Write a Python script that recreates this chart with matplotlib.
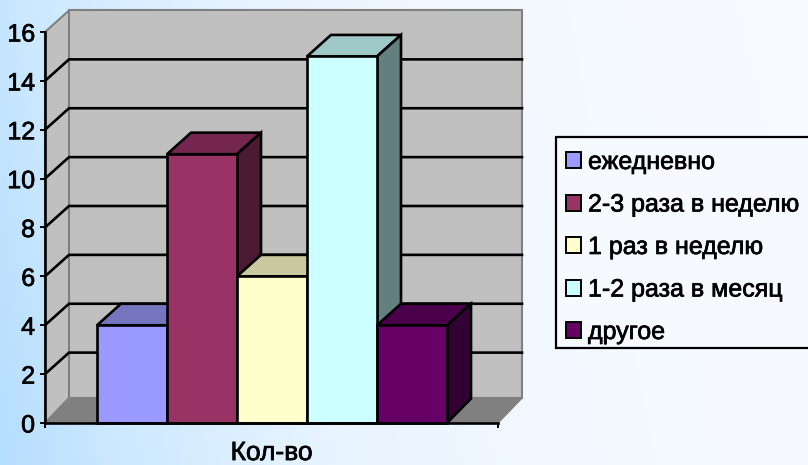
import matplotlib
matplotlib.use("Agg")
import matplotlib.pyplot as plt
import matplotlib.patheffects as pe
from matplotlib.colors import LinearSegmentedColormap
from matplotlib.patches import Patch, Polygon, Rectangle
import numpy as np

plt.rcParams["font.family"] = ["Liberation Sans", "DejaVu Sans"]

categories = ["ежедневно", "2-3 раза в неделю", "1 раз в неделю", "1-2 раза в месяц", "другое"]
values = [4, 11, 6, 15, 4]
front_colors = ["#9999ff", "#993366", "#ffffcc", "#ccffff", "#660066"]
top_colors = ["#7676bf", "#74264e", "#c9c9a0", "#9fc9c9", "#4b004b"]
side_colors = ["#4d4d80", "#4d1a33", "#80805f", "#647f7f", "#330033"]
y_ticks = [0, 2, 4, 6, 8, 10, 12, 14, 16]
x_label = "Кол-во"

W, H = 808, 465
fig = plt.figure(figsize=(W / 100, H / 100), dpi=100)

# background gradient
bg = fig.add_axes([0, 0, 1, 1], zorder=0)
bg.axis("off")
cmap = LinearSegmentedColormap.from_list(
    "bg", [(0, "#b6defe"), (0.12, "#cbe8ff"), (0.35, "#e6f3ff"), (0.6, "#f2f8ff"), (1, "#f8fbff")]
)
xx, yy = np.meshgrid(np.linspace(0, 1, 200), np.linspace(0, 1, 100))
bg.imshow(xx * 0.9 + (1 - yy) * 0.1, cmap=cmap, aspect="auto", vmin=0, vmax=1)

# front plane of the chart, 45..498 px wide and 32..423 px down
ax = fig.add_axes([45 / W, 1 - 423 / H, 453 / W, 391 / H], zorder=1)
ax.patch.set_alpha(0)
bar_w = 70.0
x0, x1 = -52 / bar_w, 401 / bar_w
ax.set_xlim(x0, x1)
ax.set_ylim(0, 16)

dx = 24 / bar_w
dy = 0.88
floor_dy = 1.02
heavy = [pe.withStroke(linewidth=0.5, foreground="black")]


def poly(pts, color, edge="black", lw=1.9, z=2):
    ax.add_patch(Polygon(pts, closed=True, facecolor=color, edgecolor=edge, linewidth=lw,
                         clip_on=False, zorder=z, joinstyle="miter"))


# walls and floor
poly([(x0 + dx, floor_dy), (x1 + dx, floor_dy), (x1 + dx, 16 + dy), (x0 + dx, 16 + dy)], "#c0c0c0", "#808080", 1.5, 1)
poly([(x0, 0), (x0 + dx, floor_dy), (x0 + dx, 16 + dy), (x0, 16)], "#c0c0c0", "#808080", 1.5, 1)
poly([(x0, 0), (x1, 0), (x1 + dx, floor_dy), (x0 + dx, floor_dy)], "#808080", "#808080", 1, 1)

# gridlines run along the side wall and then the back wall
for v in y_ticks[1:-1]:
    ax.plot([x0, x0 + dx, x1 + dx], [v, v + dy, v + dy], color="black", lw=1.9,
            clip_on=False, zorder=1.5, solid_joinstyle="miter")

for i, v in enumerate(values):
    poly([(i, v), (i + 1, v), (i + 1 + dx, v + dy), (i + dx, v + dy)], top_colors[i], z=2 + i)
    poly([(i + 1, 0), (i + 1 + dx, 1.0), (i + 1 + dx, v + dy), (i + 1, v)], side_colors[i], z=2 + i)
    poly([(i, 0), (i + 1, 0), (i + 1, v), (i, v)], front_colors[i], z=2 + i)

for s in ["top", "right"]:
    ax.spines[s].set_visible(False)
for s in ["left", "bottom"]:
    ax.spines[s].set_linewidth(1.9)
    ax.spines[s].set_zorder(10)

ax.set_yticks(y_ticks)
ax.tick_params(axis="y", length=3.6, width=1.4, pad=3.5, labelsize=18)
ax.set_xticks([(x0 + x1) / 2])
ax.set_xticklabels([x_label], fontsize=19)
ax.tick_params(axis="x", which="major", length=0, pad=13)
ax.set_xticks([x0, x1], minor=True)
ax.tick_params(axis="x", which="minor", length=3.6, width=1.4)
for t in ax.get_yticklabels() + ax.get_xticklabels():
    t.set_path_effects(heavy)

# legend frame runs off the right edge of the picture
fig.add_artist(Rectangle((556 / W, 1 - 348 / H), 260 / W, 211 / H, transform=fig.transFigure,
                         facecolor="#f6faff", edgecolor="black", linewidth=1.6, zorder=4))
handles = [Patch(facecolor=c, edgecolor="black", linewidth=1.4) for c in front_colors]
leg = fig.legend(handles, categories, loc="upper left", bbox_to_anchor=(566 / W, 1 - 150 / H),
                 bbox_transform=fig.transFigure, fontsize=18, frameon=False, borderpad=0,
                 labelspacing=0.74, handlelength=0.6, handleheight=0.6, handletextpad=0.28,
                 borderaxespad=0)
leg.set_zorder(5)
for t in leg.get_texts():
    t.set_path_effects(heavy)

fig.savefig("out.png", dpi=100)
